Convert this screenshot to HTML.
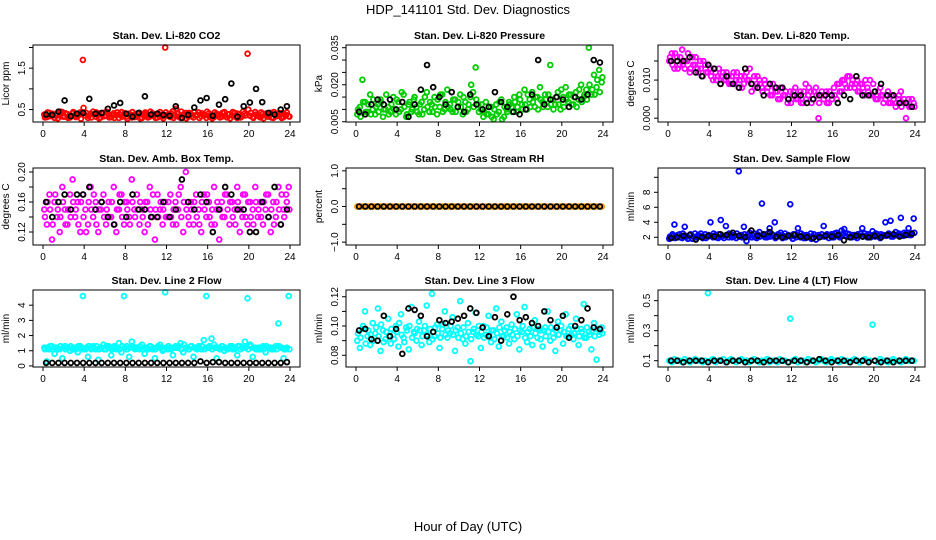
<!DOCTYPE html>
<html><head><meta charset="utf-8"><style>
html,body{margin:0;padding:0;background:#fff;}
svg{display:block;font-family:"Liberation Sans",sans-serif;}
</style></head><body>
<svg id="chart" width="936" height="540" viewBox="0 0 936 540" xmlns="http://www.w3.org/2000/svg">
<rect x="0" y="0" width="936" height="540" fill="#fff"/>
<text x="468" y="14" font-size="13" text-anchor="middle">HDP_141101  Std. Dev. Diagnostics</text>
<text x="468" y="531" font-size="13" text-anchor="middle">Hour of Day (UTC)</text>
</svg>
<script>
// ---- data ----
const xTicks = [0,4,8,12,16,20,24];
const co2Cloud = [0.38,0.32,0.42,0.35,0.30,0.40,0.36,0.44,0.33,0.39,0.31,0.41,0.37,0.34,0.43,1.70,0.36,0.30,0.40,0.45,0.33,0.38,0.31,0.42,0.35,0.39,0.32,0.41,0.36,0.30,0.44,0.37,0.33,0.40,0.31,0.38,0.35,0.42,0.30,0.39,0.36,0.33,0.41,0.37,0.31,0.44,0.34,2.00,0.38,0.32,0.46,0.35,0.40,0.30,0.37,0.42,0.33,0.39,0.31,0.36,0.43,0.34,0.38,0.30,0.41,0.35,0.32,0.40,0.37,0.33,0.44,0.31,0.39,0.36,0.42,0.30,0.38,0.34,0.41,1.85,0.35,0.32,0.44,0.37,0.31,0.40,0.36,0.33,0.42,0.30,0.39,0.35,0.41,0.32,0.37,0.34];
const co2Cloud2 = [0.31,0.43,0.34,0.40,0.37,0.29,0.45,0.33,0.41,0.30,0.36,0.44,0.32,0.39,0.28,0.54,0.42,0.35,0.31,0.38,0.43,0.29,0.40,0.34,0.45,0.31,0.37,0.30,0.43,0.39,0.33,0.41,0.28,0.36,0.44,0.32,0.40,0.29,0.38,0.43,0.31,0.45,0.35,0.30,0.40,0.37,0.29,0.43,0.35,0.41,0.30,0.52,0.33,0.45,0.39,0.29,0.42,0.34,0.44,0.38,0.30,0.41,0.36,0.45,0.33,0.29,0.43,0.37,0.31,0.42,0.35,0.39,0.29,0.44,0.33,0.40,0.31,0.45,0.36,0.50,0.42,0.30,0.38,0.34,0.43,0.29,0.40,0.37,0.31,0.44,0.34,0.41,0.30,0.38,0.43,0.33];
const co2Black = [0.38,0.37,0.45,0.72,0.34,0.40,0.42,0.76,0.40,0.42,0.52,0.60,0.66,0.40,0.33,0.42,0.82,0.38,0.40,0.37,0.35,0.58,0.30,0.37,0.55,0.72,0.78,0.35,0.62,0.75,1.13,0.33,0.58,0.67,1.00,0.68,0.42,0.38,0.50,0.58];
const presCloud = [.008,.011,.022,.013,.009,.016,.010,.008,.012,.014,.007,.010,
.011,.009,.015,.008,.013,.010,.016,.007,.012,.009,.014,.011,
.008,.013,.010,.017,.009,.012,.015,.008,.011,.016,.010,.018,
.012,.009,.014,.011,.016,.008,.013,.010,.015,.017,.027,.012,
.010,.007,.013,.008,.011,.006,.012,.009,.014,.007,.010,.013,
.011,.015,.009,.016,.012,.018,.010,.014,.017,.011,.015,.019,
.013,.016,.011,.028,.014,.012,.017,.010,.015,.019,.013,.016,
.012,.017,.014,.020,.015,.018,.035,.016,.024,.019,.026,.021];
const presCloud2 = [.010,.007,.013,.009,.012,.008,.014,.011,.009,.013,.010,.016,
.008,.012,.010,.014,.009,.017,.011,.008,.013,.010,.015,.009,
.012,.008,.015,.011,.013,.009,.011,.014,.016,.009,.013,.011,
.010,.014,.009,.013,.011,.015,.009,.012,.020,.011,.014,.009,
.012,.009,.008,.011,.007,.010,.008,.013,.006,.011,.009,.012,
.009,.013,.011,.014,.010,.012,.016,.011,.013,.015,.010,.014,
.011,.014,.016,.012,.010,.015,.012,.018,.011,.014,.016,.012,
.015,.011,.018,.013,.016,.014,.020,.018,.016,.022,.017,.023];
const presBlack = [.009,.008,.012,.014,.012,.014,.010,.013,.007,.012,.018,.028,.019,.015,.012,.017,.011,.009,.016,.012,.010,.011,.017,.013,.011,.009,.008,.010,.016,.030,.012,.014,.015,.014,.011,.015,.014,.016,.030,.029];
const tempCloud = [.015,.017,.013,.016,.014,.018,.013,.015,.012,.016,.014,.013,
.015,.011,.014,.012,.013,.010,.012,.011,.009,.012,.010,.011,
.009,.012,.010,.008,.011,.009,.012,.010,.007,.011,.009,.010,
.008,.010,.007,.009,.006,.008,.007,.005,.008,.006,.004,.007,
.006,.008,.005,.007,.004,.009,.006,.007,.005,.008,.000,.006,
.005,.007,.004,.006,.008,.005,.009,.007,.010,.008,.011,.009,
.008,.010,.007,.009,.006,.008,.010,.006,.007,.005,.008,.006,
.005,.007,.004,.006,.003,.005,.007,.004,.000,.005,.003,.004];
const tempCloud2 = [.016,.014,.017,.013,.016,.014,.015,.017,.013,.014,.016,.012,
.013,.015,.012,.014,.011,.013,.010,.013,.011,.010,.012,.009,
.011,.009,.012,.010,.008,.011,.010,.013,.009,.008,.011,.009,
.007,.009,.008,.006,.009,.007,.005,.008,.006,.007,.005,.004,
.007,.005,.006,.004,.007,.005,.008,.004,.007,.006,.004,.007,
.006,.004,.007,.005,.006,.009,.007,.010,.009,.011,.008,.010,
.009,.007,.009,.008,.010,.007,.006,.009,.005,.007,.006,.004,
.006,.004,.006,.005,.004,.006,.003,.005,.004,.003,.005,.003];
const tempBlack = [.015,.015,.015,.016,.012,.011,.014,.013,.009,.011,.009,.008,.013,.009,.008,.006,.009,.008,.008,.005,.006,.006,.004,.005,.006,.006,.006,.004,.006,.005,.011,.006,.006,.007,.009,.006,.006,.004,.004,.003];
const boxCloud = [.15,.13,.17,.11,.16,.14,.12,.18,.15,.13,.17,.19,
.14,.16,.12,.17,.15,.13,.18,.14,.16,.12,.15,.17,
.13,.16,.14,.18,.12,.15,.17,.13,.16,.14,.19,.15,
.17,.13,.15,.12,.16,.18,.14,.11,.17,.15,.13,.16,
.14,.17,.13,.16,.15,.18,.12,.20,.14,.16,.13,.17,
.15,.12,.17,.14,.16,.13,.18,.15,.11,.16,.14,.17,
.13,.16,.15,.18,.12,.14,.17,.13,.16,.15,.18,.14,
.16,.13,.15,.17,.12,.16,.14,.18,.13,.15,.17,.18];
const boxCloud2 = [.14,.16,.15,.13,.17,.15,.14,.16,.13,.15,.14,.16,
.15,.13,.16,.14,.12,.16,.15,.17,.13,.15,.16,.14,
.15,.14,.16,.13,.15,.17,.14,.16,.15,.13,.16,.14,
.15,.16,.14,.16,.13,.15,.17,.15,.14,.16,.15,.14,
.16,.14,.15,.13,.17,.14,.16,.15,.13,.15,.16,.14,
.13,.16,.15,.17,.14,.15,.13,.16,.15,.14,.17,.15,
.16,.14,.13,.16,.15,.17,.14,.16,.14,.13,.16,.15,
.14,.16,.17,.14,.15,.13,.16,.15,.17,.14,.16,.15];
const boxBlack = [.16,.14,.16,.17,.15,.17,.17,.18,.15,.16,.14,.13,.16,.14,.17,.15,.15,.14,.14,.16,.14,.15,.19,.16,.15,.17,.16,.12,.15,.18,.17,.15,.15,.12,.12,.16,.14,.18,.13,.15];
const rhCloud = new Array(96).fill(0);
const rhBlack = new Array(40).fill(0);
const flowCloud = [1.8,2.2,3.7,2.0,2.4,1.9,3.4,2.1,2.3,1.8,2.5,2.0,
2.2,1.9,2.4,2.1,4.0,2.0,2.3,1.9,4.3,2.2,3.5,2.0,
2.4,2.1,1.9,10.8,2.3,3.4,1.5,2.2,2.0,2.5,1.9,2.7,
6.5,2.2,2.0,3.2,2.4,4.0,2.1,2.3,1.9,2.5,2.2,6.4,
1.8,2.4,3.2,2.0,2.3,1.9,2.2,2.5,2.0,1.7,2.3,2.1,
3.5,2.2,1.9,2.4,2.0,2.6,2.2,2.9,3.1,2.1,2.4,2.0,
2.3,1.9,2.2,3.2,2.5,2.0,2.3,2.8,2.1,2.4,1.9,2.2,
4.0,2.4,4.2,2.1,2.7,2.3,4.6,2.2,2.5,3.2,2.3,4.5];
const flowCloud2 = [2.1,2.4,1.9,2.3,2.0,2.5,2.2,1.8,2.4,2.1,2.0,2.3,
2.5,2.1,1.9,2.3,2.2,2.5,2.0,2.4,2.1,1.9,2.3,2.5,
2.0,2.3,2.5,2.1,2.0,2.4,2.2,2.6,2.3,2.0,2.4,2.1,
2.3,2.0,2.5,2.1,2.2,1.9,2.4,2.6,2.2,2.0,2.3,2.1,
2.4,2.0,2.2,2.5,1.9,2.3,2.1,1.8,2.4,2.2,2.0,2.4,
2.1,2.4,2.3,2.0,2.5,2.2,2.0,2.4,2.2,2.5,2.0,2.3,
2.1,2.4,2.5,2.1,2.2,2.4,2.0,2.3,2.5,2.1,2.4,2.3,
2.2,2.5,2.1,2.4,2.3,2.5,2.2,2.6,2.4,2.3,2.5,2.6];
const flowBlack = [1.9,2.0,2.2,2.3,1.7,2.0,2.2,2.1,2.4,2.3,2.6,2.2,2.0,2.9,2.2,2.4,2.7,2.1,2.0,2.2,2.3,2.1,2.0,1.9,2.0,2.2,2.1,2.3,1.6,2.0,2.2,2.1,2.0,2.2,2.0,2.3,2.4,2.1,2.3,2.5];
const line2Cloud = [1.2,0.3,1.1,1.3,0.8,1.2,1.1,0.5,1.3,1.2,1.0,1.1,
1.2,0.9,1.3,4.6,1.1,0.6,1.2,1.3,1.1,0.4,1.2,1.4,
1.1,1.3,0.7,1.2,1.1,1.5,0.9,4.6,1.3,0.6,1.6,1.2,
1.2,1.1,1.4,0.8,1.2,1.3,1.1,0.5,1.2,1.4,1.0,4.85,
1.1,1.2,0.7,1.3,1.2,1.5,0.9,1.2,1.1,1.3,0.6,1.2,
1.3,1.1,1.7,4.6,1.2,1.8,1.4,0.5,1.2,1.3,1.0,1.1,
1.2,1.3,1.1,0.7,1.3,1.2,1.6,4.45,1.4,0.6,1.2,1.1,
1.1,1.3,0.9,1.2,1.2,1.1,1.3,2.8,1.2,0.5,1.1,4.6];
const line2Cloud2 = [1.1,1.2,1.3,1.1,1.2,1.1,1.3,1.2,1.1,1.2,1.3,1.2,
1.1,1.3,1.2,1.1,1.2,1.3,1.1,1.2,1.3,1.1,1.2,1.1,
1.3,1.2,1.1,1.3,1.2,1.1,1.3,1.2,1.1,1.2,1.3,1.1,
1.2,1.3,1.1,1.2,1.1,1.3,1.2,1.1,1.3,1.2,1.1,1.2,
1.3,1.1,1.2,1.2,1.3,1.1,1.4,1.2,1.1,1.3,1.2,1.1,
1.2,1.3,1.1,1.2,1.3,1.1,1.2,1.2,1.1,1.3,1.2,1.1,
1.3,1.1,1.2,1.3,1.1,1.2,1.2,1.1,1.3,1.2,1.1,1.2,
1.2,1.1,1.3,1.2,1.1,1.2,1.1,1.3,1.2,1.1,1.2,1.1];
const line2Black = [0.2,0.2,0.2,0.2,0.2,0.2,0.2,0.2,0.2,0.2,0.2,0.2,0.2,0.2,0.2,0.2,0.2,0.2,0.2,0.2,0.2,0.2,0.2,0.2,0.2,0.3,0.2,0.25,0.25,0.2,0.2,0.2,0.2,0.2,0.2,0.2,0.2,0.2,0.2,0.25];
const line3Cloud = [.090,.085,.098,.110,.093,.087,.102,.095,.112,.083,.097,.091,
.105,.088,.094,.100,.086,.108,.092,.099,.084,.113,.096,.090,
.103,.087,.097,.114,.089,.122,.093,.101,.085,.098,.110,.092,
.095,.106,.083,.099,.117,.091,.088,.102,.076,.096,.109,.093,
.085,.100,.094,.107,.089,.097,.112,.086,.103,.093,.099,.088,
.101,.091,.108,.084,.096,.113,.089,.098,.087,.104,.092,.097,
.086,.099,.110,.090,.095,.083,.103,.097,.088,.108,.093,.100,
.091,.105,.087,.098,.115,.092,.096,.084,.102,.077,.094,.099];
const line3Cloud2 = [.095,.092,.100,.088,.097,.094,.090,.099,.093,.101,.089,.096,
.093,.098,.091,.096,.102,.094,.089,.097,.100,.092,.095,.098,
.097,.093,.100,.094,.098,.091,.099,.095,.092,.101,.094,.097,
.100,.094,.097,.092,.095,.099,.093,.096,.091,.098,.094,.100,
.096,.092,.099,.094,.097,.091,.095,.099,.093,.097,.092,.096,
.094,.098,.093,.097,.100,.092,.096,.093,.099,.095,.098,.091,
.097,.093,.096,.099,.092,.097,.094,.100,.096,.093,.098,.094,
.095,.098,.093,.096,.092,.099,.094,.097,.093,.098,.096,.095];
const line3Black = [.097,.098,.091,.090,.107,.093,.098,.081,.112,.111,.107,.093,.096,.104,.102,.103,.105,.107,.112,.109,.099,.093,.106,.090,.108,.120,.104,.106,.102,.100,.110,.104,.099,.107,.092,.100,.104,.112,.099,.098];
const line4Cloud = [.10,.09,.11,.10,.10,.09,.11,.10,.09,.10,.11,.10,.10,.09,.10,.55,.10,.11,.09,.10,.10,.11,.09,.10,
.11,.10,.09,.10,.11,.10,.10,.09,.10,.11,.10,.09,.10,.10,.11,.09,.10,.10,.09,.11,.10,.10,.09,.38,
.10,.11,.09,.10,.10,.09,.11,.10,.10,.09,.10,.11,.10,.09,.10,.11,.10,.10,.09,.11,.10,.10,.09,.10,
.11,.10,.09,.10,.11,.10,.10,.34,.10,.09,.11,.10,.10,.09,.10,.11,.10,.10,.09,.10,.11,.10,.10,.10];
const line4Black = [.10,.10,.09,.10,.10,.10,.09,.10,.10,.09,.10,.10,.09,.10,.10,.09,.10,.10,.10,.09,.10,.10,.09,.10,.11,.10,.09,.10,.10,.09,.10,.10,.09,.10,.09,.10,.09,.10,.10,.10];

// ---- layout ----
const panels = [
 {name:'co2', title:'Stan. Dev. Li-820 CO2', ylab:'Licor ppm', col:0,row:0, ymin:0.2,ymax:2.06, ticks:[0.5,1,1.5,2], labels:['0.5','','1.5',''], color:'#ff0000', clouds:[co2Cloud,co2Cloud2], black:co2Black},
 {name:'pressure', title:'Stan. Dev. Li-820 Pressure', ylab:'kPa', col:1,row:0, ymin:0.0049,ymax:0.0361, ticks:[.005,.01,.015,.02,.025,.03,.035], labels:['0.005','','','0.020','','','0.035'], color:'#00cc00', clouds:[presCloud,presCloud2], black:presBlack},
 {name:'temp', title:'Stan. Dev. Li-820 Temp.', ylab:'degrees C', col:2,row:0, ymin:-0.001,ymax:0.0192, ticks:[0,.005,.01,.015], labels:['0.000','','0.010',''], color:'#ff00ff', clouds:[tempCloud,tempCloud2], black:tempBlack},
 {name:'box-temp', title:'Stan. Dev. Amb. Box Temp.', ylab:'degrees C', col:0,row:1, ymin:0.1027,ymax:0.2053, ticks:[.12,.14,.16,.18,.20], labels:['0.12','','0.16','','0.20'], color:'#ff00ff', clouds:[boxCloud,boxCloud2], black:boxBlack},
 {name:'rh', title:'Stan. Dev. Gas Stream RH', ylab:'percent', col:1,row:1, ymin:-1.08,ymax:1.08, ticks:[-1,-0.5,0,0.5,1], labels:['\u22121.0','','0.0','','1.0'], color:'#ff9900', clouds:[rhCloud], black:rhBlack},
 {name:'sample-flow', title:'Stan. Dev. Sample Flow', ylab:'ml/min', col:2,row:1, ymin:0.97,ymax:11.24, ticks:[2,4,6,8,10], labels:['2','4','6','8',''], color:'#0000ff', clouds:[flowCloud,flowCloud2], black:flowBlack},
 {name:'line2', title:'Stan. Dev. Line 2 Flow', ylab:'ml/min', col:0,row:2, ymin:-0.07,ymax:5.0, ticks:[0,1,2,3,4], labels:['0','1','2','3','4'], color:'#00ffff', clouds:[line2Cloud,line2Cloud2], black:line2Black},
 {name:'line3', title:'Stan. Dev. Line 3 Flow', ylab:'ml/min', col:1,row:2, ymin:0.072,ymax:0.1246, ticks:[.08,.09,.10,.11,.12], labels:['0.08','','0.10','','0.12'], color:'#00ffff', clouds:[line3Cloud,line3Cloud2], black:line3Black},
 {name:'line4', title:'Stan. Dev. Line 4 (LT) Flow', ylab:'ml/min', col:2,row:2, ymin:0.058,ymax:0.571, ticks:[.1,.2,.3,.4,.5], labels:['0.1','','0.3','','0.5'], color:'#00ffff', clouds:[line4Cloud], black:line4Black}
];
const colLeft=[33,346,658], rowTop=[45,168,290], W=267, H=77;
const NS='http://www.w3.org/2000/svg';
const svg=document.getElementById('chart');
function mk(tag, attrs, parent){const e=document.createElementNS(NS,tag);for(const k in attrs)e.setAttribute(k,attrs[k]);(parent||svg).appendChild(e);return e;}

panels.forEach(p=>{
  const L=colLeft[p.col], T=rowTop[p.row];
  const xs=v=>L+10+(v/24)*(W-20);
  const ys=v=>T+H-(v-p.ymin)/(p.ymax-p.ymin)*H;
  const g=mk('g',{});
  
  
  const t=mk('text',{x:L+W/2,y:T-6,'font-size':10.5,'font-weight':'bold','text-anchor':'middle'},g);
  t.textContent=p.title;
  
  
  const yl=mk('text',{x:0,y:0,'font-size':10,'text-anchor':'middle',transform:`translate(${L-24},${T+H/2}) rotate(-90)`},g);
  yl.textContent=p.ylab;
  
  
  const pts=mk('g',{fill:'none','stroke-width':1.8},g);
  
  
  p.clouds.forEach((arr,k)=>{
    const n=arr.length;
    arr.forEach((v,i)=>{
      const c=mk('circle',{cx:xs((i+0.5+k*0.5)*24/n - (k?0.06:0)),cy:ys(v),r:2.4,stroke:p.color},pts);
      
      
    });
  });
  const m=p.black.length;
  p.black.forEach((v,i)=>{
    const c=mk('circle',{cx:xs((i+0.5)*24/m),cy:ys(v),r:2.4,stroke:'#000'},pts);
    
    
  });
  const b=mk('rect',{x:L,y:T,width:W,height:H,fill:'none',stroke:'#000','stroke-width':1},g);
  
  
  const xa=mk('g',{stroke:'#000','stroke-width':1},g);
  
  
  mk('line',{x1:xs(0),x2:xs(24),y1:T+H,y2:T+H},xa);
  xTicks.forEach(v=>{
    mk('line',{x1:xs(v),x2:xs(v),y1:T+H,y2:T+H+4},xa);
    const tl=mk('text',{x:xs(v),y:T+H+15,'font-size':10,'text-anchor':'middle',stroke:'none'},xa);
    tl.textContent=v;
    
    
  });
  const ya=mk('g',{stroke:'#000','stroke-width':1},g);
  
  
  mk('line',{x1:L,x2:L,y1:ys(p.ticks[0]),y2:ys(p.ticks[p.ticks.length-1])},ya);
  p.ticks.forEach((v,i)=>{
    mk('line',{x1:L-4,x2:L,y1:ys(v),y2:ys(v)},ya);
    if(p.labels[i]){
      const tl=mk('text',{x:0,y:0,'font-size':10,'text-anchor':'middle',stroke:'none',transform:`translate(${L-8},${ys(v)}) rotate(-90)`},ya);
      tl.textContent=p.labels[i];
      
      
    }
  });
});
</script>
</body></html>
